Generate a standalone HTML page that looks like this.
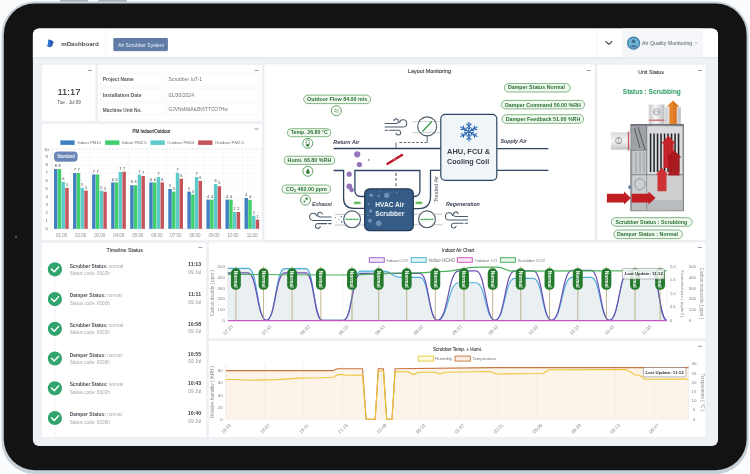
<!DOCTYPE html>
<html><head><meta charset="utf-8"><style>
html,body{margin:0;padding:0;background:#fff;}
body{width:750px;height:474px;overflow:hidden;position:relative;font-family:"Liberation Sans", sans-serif;}
svg{position:absolute;left:0;top:0;filter:blur(0.3px);}
svg text{font-family:"Liberation Sans", sans-serif;}
</style></head><body>
<svg width="750" height="474" viewBox="0 0 750 474">
<defs>
<clipPath id="scr"><rect x="32.9" y="28.4" width="685.1" height="417.6" rx="6"/></clipPath>
</defs>

<rect x="0" y="0" width="750" height="474" fill="#fbfcfd"/>
<rect x="60" y="0" width="28" height="2.2" rx="1" fill="#a9b3bc"/>
<rect x="98" y="0" width="29" height="2.2" rx="1" fill="#a9b3bc"/>
<rect x="1.6" y="1.5" width="747" height="472.5" rx="33" fill="#c6d0d8"/>
<rect x="3.8" y="3.4" width="742.8" height="466.8" rx="31" fill="#131313"/>
<circle cx="16" cy="237" r="1.3" fill="#4a4f55"/>
<g clip-path="url(#scr)">
<rect x="32" y="28" width="687" height="419" fill="#eef1f5"/>
<rect x="32" y="28" width="687" height="29" fill="#ffffff"/>
<rect x="32" y="57" width="687" height="2" fill="#e7ebf0"/>
<defs><linearGradient id="lg" x1="0" y1="0" x2="1" y2="0"><stop offset="0" stop-color="#3f86e6"/><stop offset="1" stop-color="#1f4fa8"/></linearGradient></defs>
<path d="M48.2 39.4 C50.6 39.3 52.6 40.6 53.9 42.3 L52.9 42.9 C53.1 45.4 51.4 47.3 49.2 47.3 C48.5 47.3 48 46.9 47.7 46.3 L46.1 45.8 L47.7 45 Z" fill="url(#lg)"/>
<path d="M50.5 41.5 L52.9 42.9 L51 44.5 Z" fill="#173f8f" opacity="0.6"/>
<text x="61.2" y="46" font-size="6.15" font-weight="bold" fill="#4a4e55">mDashboard</text>
<rect x="105.4" y="28" width="0.7" height="29" fill="#eef0f3"/>
<rect x="113.3" y="37.9" width="54.6" height="13" rx="1.2" fill="#5f7ba6"/>
<rect x="113.8" y="50.9" width="53.6" height="0.8" fill="#c9d0da" opacity="0.7"/>
<text x="118.1" y="46.6" font-size="5.02" fill="#eef2f8">Air Scrubber System</text>
<rect x="596.5" y="30" width="0.8" height="27" fill="#f0f2f5"/>
<path d="M605.6 41.2 L608.9 44.4 L612.2 41.2" fill="none" stroke="#4d5866" stroke-width="1.3"/>
<rect x="622" y="28" width="81" height="29" fill="#f4f6f9"/>
<circle cx="633.6" cy="43.1" r="6.6" fill="#3f7fa6"/>
<circle cx="633.6" cy="43.1" r="5.4" fill="#6fb3d2"/>
<circle cx="633.6" cy="41.3" r="1.9" fill="#3c6f93"/>
<path d="M630.2 47.2 C630.6 44.6 636.6 44.6 637 47.2 Z" fill="#3c6f93"/>
<text x="642.1" y="45.2" font-size="5.26" fill="#555b63">Air Quality Monitoring</text>
<path d="M695.2 42.6 L697 42.6 L696.1 43.8 Z" fill="#8a9099"/>
<rect x="41.8" y="64.3" width="54.10000000000001" height="57.400000000000006" fill="#ffffff" stroke="#e3e7ec" stroke-width="0.5"/>
<rect x="97.6" y="64.3" width="164.9" height="57.400000000000006" fill="#ffffff" stroke="#e3e7ec" stroke-width="0.5"/>
<rect x="264" y="64" width="330.9" height="176.5" fill="#ffffff" stroke="#e3e7ec" stroke-width="0.5"/>
<rect x="597" y="64.2" width="109" height="176.3" fill="#ffffff" stroke="#e3e7ec" stroke-width="0.5"/>
<rect x="41.7" y="123.5" width="220.8" height="117.19999999999999" fill="#ffffff" stroke="#e3e7ec" stroke-width="0.5"/>
<rect x="41.5" y="242.2" width="165.3" height="195.40000000000003" fill="#ffffff" stroke="#e3e7ec" stroke-width="0.5"/>
<rect x="208.2" y="242" width="497.8" height="96.80000000000001" fill="#ffffff" stroke="#e3e7ec" stroke-width="0.5"/>
<rect x="208.2" y="340.5" width="497.8" height="97.10000000000002" fill="#ffffff" stroke="#e3e7ec" stroke-width="0.5"/>
<rect x="88" y="69.95" width="4" height="0.7" fill="#6b7280"/>
<rect x="254.5" y="69.95" width="4" height="0.7" fill="#6b7280"/>
<rect x="586.8" y="70.05000000000001" width="4" height="0.7" fill="#6b7280"/>
<rect x="698" y="70.05000000000001" width="4" height="0.7" fill="#6b7280"/>
<rect x="254.5" y="128.65" width="4" height="0.7" fill="#6b7280"/>
<rect x="198.4" y="247.35" width="4" height="0.7" fill="#6b7280"/>
<rect x="697.7" y="247.15" width="4" height="0.7" fill="#6b7280"/>
<rect x="698" y="345.84999999999997" width="4" height="0.7" fill="#6b7280"/>
<text x="57.5" y="94.9" font-size="9.5" fill="#2b2f36" stroke="#2b2f36" stroke-width="0.12">11:17</text>
<text x="57.2" y="103.7" font-size="4.55" fill="#4a4f57">Tue , Jul 09</text>
<rect x="100.1" y="73.2" width="62.9" height="12.799999999999997" fill="#fff" stroke="#eff1f4" stroke-width="0.6"/>
<rect x="166.3" y="73.2" width="93.1" height="12.799999999999997" fill="#fff" stroke="#eff1f4" stroke-width="0.6"/>
<text x="102.8" y="81" font-size="4.83" font-weight="bold" fill="#555a62">Project Name</text>
<text x="168.5" y="81.2" font-size="5.08" fill="#6e737a">Scrubber IoT-1</text>
<rect x="100.1" y="88.1" width="62.9" height="12.900000000000006" fill="#fff" stroke="#eff1f4" stroke-width="0.6"/>
<rect x="166.3" y="88.1" width="93.1" height="12.900000000000006" fill="#fff" stroke="#eff1f4" stroke-width="0.6"/>
<text x="102.8" y="96.7" font-size="5.0" font-weight="bold" fill="#555a62">Installation Date</text>
<text x="168.5" y="96.6" font-size="5.1" fill="#6e737a">01/30/2024</text>
<rect x="100.1" y="103" width="62.9" height="11.799999999999997" fill="#fff" stroke="#eff1f4" stroke-width="0.6"/>
<rect x="166.3" y="103" width="93.1" height="11.799999999999997" fill="#fff" stroke="#eff1f4" stroke-width="0.6"/>
<text x="102.8" y="111.6" font-size="4.8" font-weight="bold" fill="#555a62">Machine Unit No.</text>
<text x="168.5" y="111.3" font-size="4.84" fill="#6e737a">GJVNsMdAkZK6TTCO7Hw</text>
<text x="408.1" y="73.3" font-size="5.4" fill="#3c4048" stroke="#3c4048" stroke-width="0.12">Layout Monitoring</text>
<rect x="303.7" y="95.1" width="67.0" height="8.5" rx="4.25" fill="#f1f9f0" stroke="#4f9a52" stroke-width="0.7"/>
<text x="307.1" y="101.3" font-size="5.34" font-weight="bold" fill="#277030">Outdoor Flow 84.00 m/s</text>
<rect x="287.3" y="128.7" width="43.599999999999966" height="8.0" rx="4.0" fill="#f1f9f0" stroke="#4f9a52" stroke-width="0.7"/>
<text x="290.7" y="134.4" font-size="5.25" font-weight="bold" fill="#277030">Temp. 26.80 °C</text>
<rect x="284.3" y="156.2" width="50.39999999999998" height="8.200000000000017" rx="4.1000000000000085" fill="#f1f9f0" stroke="#4f9a52" stroke-width="0.7"/>
<text x="287.6" y="161.9" font-size="5.35" font-weight="bold" fill="#277030">Humi. 66.80 %RH</text>
<rect x="282.1" y="185" width="48.5" height="8.199999999999989" rx="4.099999999999994" fill="#f1f9f0" stroke="#4f9a52" stroke-width="0.7"/>
<text x="286" y="190.8" font-size="5.37" font-weight="bold" fill="#277030">CO<tspan font-size="3.6" dy="0.8">2</tspan><tspan dy="-0.8"> 462.00 ppm</tspan></text>
<rect x="504.3" y="83.6" width="65.99999999999994" height="8.400000000000006" rx="4.200000000000003" fill="#f1f9f0" stroke="#4f9a52" stroke-width="0.7"/>
<text x="507.9" y="89.4" font-size="5.3" font-weight="bold" fill="#277030">Damper Status Normal</text>
<rect x="501.4" y="100.4" width="83.20000000000005" height="8.5" rx="4.25" fill="#f1f9f0" stroke="#4f9a52" stroke-width="0.7"/>
<text x="505" y="106.7" font-size="5.32" font-weight="bold" fill="#277030">Damper Command 50.00 %RH</text>
<rect x="501.9" y="114.7" width="81.80000000000007" height="8.599999999999994" rx="4.299999999999997" fill="#f1f9f0" stroke="#4f9a52" stroke-width="0.7"/>
<text x="505.7" y="121.3" font-size="5.33" font-weight="bold" fill="#277030">Damper Feedback 51.00 %RH</text>
<circle cx="336.3" cy="110.7" r="5.0" fill="#fff" stroke="#2e8a3a" stroke-width="0.8"/>
<path d="M334 109.8 q1.1 -0.9 2.3 0 t2.3 0 M334 111.8 q1.1 -0.9 2.3 0 t2.3 0" fill="none" stroke="#2e7a36" stroke-width="0.6"/>
<circle cx="307.7" cy="143.3" r="5.0" fill="#fff" stroke="#2e8a3a" stroke-width="0.8"/>
<rect x="306.2" y="139.6" width="3" height="6.6" rx="1.5" fill="none" stroke="#2e7a36" stroke-width="0.6"/><circle cx="307.7" cy="145.2" r="1.3" fill="#2e7a36"/>
<circle cx="307.9" cy="171.3" r="5.0" fill="#fff" stroke="#2e8a3a" stroke-width="0.8"/>
<path d="M307.9 168.6 C306.6 170.6 306.2 171.4 306.2 172.2 a1.7 1.7 0 0 0 3.4 0 C309.6 171.4 309.2 170.6 307.9 168.6 Z" fill="#2e7a36"/>
<circle cx="305.5" cy="200.1" r="5.0" fill="#fff" stroke="#2e8a3a" stroke-width="0.8"/>
<circle cx="306.7" cy="198.6" r="1.2" fill="#2e7a36"/><circle cx="304.4" cy="201.6" r="0.9" fill="#2e7a36"/><path d="M304.4 201.6 L306.7 198.6" stroke="#2e7a36" stroke-width="0.6"/>
<text x="333.3" y="144" font-size="5.4" font-weight="bold" font-style="italic" fill="#3a4250">Return Air</text>
<text x="500.4" y="143.3" font-size="5.3" font-weight="bold" font-style="italic" fill="#3a4250">Supply Air</text>
<text x="312" y="205.6" font-size="5.5" font-style="italic" fill="#3a4250" stroke="#3a4250" stroke-width="0.1">Exhaust</text>
<text x="446" y="205.6" font-size="5.3" font-weight="bold" font-style="italic" fill="#3a4250">Regeneration</text>
<text transform="translate(438,202.6) rotate(-90)" x="0" y="0" font-size="5.5" fill="#505761">Treated Air</text>
<path d="M333.6 148.5 H441" stroke="#2d4563" stroke-width="1.3" fill="none"/>
<path d="M497 148.6 H548.4 M497 170.4 H548.4" stroke="#2d4563" stroke-width="1.3" fill="none"/>
<path d="M333.6 170.5 H343.6 V198.3 Q343.6 208.4 353.6 208.4 H366" stroke="#2d4563" stroke-width="1.3" fill="none"/>
<path d="M366 196.5 H361 Q354.9 196.5 354.9 190.5 V170.5 H419.9 V190.5 Q419.9 196.5 413.9 196.5 H411" stroke="#2d4563" stroke-width="1.3" fill="none"/>
<path d="M441 170.3 H430.5 V196.5 Q430.5 208.6 418.5 208.6 H411" stroke="#2d4563" stroke-width="1.3" fill="none"/>
<path d="M412.5 121.7 H440 M412.5 132.6 H440" stroke="#b5bcc4" stroke-width="0.7"/>
<circle cx="427.2" cy="126.4" r="9.5" fill="none" stroke="#4c5a69" stroke-width="1.1"/>
<path d="M422.5 131.5 L431.8 121.5" stroke="#2e9a48" stroke-width="1.2"/>
<path d="M427.2 135.9 V142.5" stroke="#4c5a69" stroke-width="0.9"/>
<path d="M427.2 142.5 H397.8" stroke="#4c5a69" stroke-width="0.9" stroke-dasharray="2.6 1.6"/>
<path d="M396 142.5 V148" stroke="#4c5a69" stroke-width="0.9"/>
<g transform="translate(384.6,119.2) scale(1.0)" fill="none" stroke="#4b5a6c" stroke-width="1.05" stroke-linecap="round"><path d="M0.5 4.3 H11.6 A2.3 2.3 0 1 0 9.4 1.3"/><path d="M0.5 7.8 H18.5 A3.6 3.6 0 1 0 15 3.4"/><path d="M0.5 11 H3 M4.8 11 H13.6 A2.4 2.4 0 1 1 11.4 14"/></g>
<g transform="translate(309.2,212.6)" fill="none" stroke="#4b5a6c" stroke-width="1.05" stroke-linecap="round"><path d="M22 4.3 H10.8 A2.3 2.3 0 1 1 13 1.3"/><path d="M22 7.8 H4 A3.6 3.6 0 1 1 7.5 3.4"/><path d="M22 11 H19.5 M17.6 11 H8.8 A2.4 2.4 0 1 0 11 14"/></g>
<g transform="translate(445.1,212.2)" fill="none" stroke="#4b5a6c" stroke-width="1.05" stroke-linecap="round"><path d="M22.5 4.3 H10.8 A2.3 2.3 0 1 1 13 1.3"/><path d="M22.5 7.8 H4 A3.6 3.6 0 1 1 7.5 3.4"/><path d="M22.5 11 H20 M18 11 H8.8 A2.4 2.4 0 1 0 11 14"/></g>
<path d="M334.8 214.4 H366 M334.8 225 H366 M411 214.2 H442.6 M411 224.8 H442.6" stroke="#a9b1ba" stroke-width="0.7"/>
<circle cx="352.1" cy="219.3" r="8.4" fill="#fff" stroke="#4c5a69" stroke-width="1.1"/>
<path d="M345.6 219.3 H358.6" stroke="#3fae54" stroke-width="1.2" stroke-dasharray="3 0.6"/>
<path d="M345.6 219.3 H358.6" stroke="#2a6a3a" stroke-width="0.4" stroke-dasharray="0.6 3" stroke-dashoffset="-3"/>
<circle cx="427" cy="219.3" r="8.4" fill="#fff" stroke="#4c5a69" stroke-width="1.1"/>
<path d="M420.5 219.3 H433.5" stroke="#3fae54" stroke-width="1.2" stroke-dasharray="3 0.6"/>
<path d="M420.5 219.3 H433.5" stroke="#2a6a3a" stroke-width="0.4" stroke-dasharray="0.6 3" stroke-dashoffset="-3"/>
<circle cx="335.5" cy="217.5" r="0.6" fill="#6a7a8c"/>
<circle cx="338.5" cy="219.6" r="0.5" fill="#6a7a8c"/>
<circle cx="341.2" cy="216.8" r="0.7" fill="#4a6a90"/>
<circle cx="341.8" cy="222" r="0.8" fill="#2a4a70"/>
<circle cx="336.5" cy="222.4" r="0.4" fill="#7a8a9c"/>
<rect x="353.7" y="201.6" width="7.2" height="2.6" rx="1.3" fill="#7ccf6e"/>
<path d="M355.1 202.9 H359.5" stroke="#2f7a3a" stroke-width="0.7" stroke-dasharray="1.2 0.6"/>
<rect x="415.29999999999995" y="201.6" width="7.2" height="2.6" rx="1.3" fill="#7ccf6e"/>
<path d="M416.7 202.9 H421.09999999999997" stroke="#2f7a3a" stroke-width="0.7" stroke-dasharray="1.2 0.6"/>
<path d="M396 172.8 V186.5" stroke="#56616d" stroke-width="1.1" stroke-dasharray="3.2 1.9"/>
<circle cx="357.2" cy="154.3" r="3.1" fill="#8d68b5" opacity="0.92"/>
<circle cx="359.4" cy="164.6" r="2.7" fill="#8d68b5" opacity="0.92"/>
<circle cx="349.2" cy="174.2" r="2.6" fill="#8d68b5" opacity="0.92"/>
<circle cx="349.3" cy="186.3" r="2.9" fill="#8d68b5" opacity="0.92"/>
<circle cx="351.6" cy="189.9" r="2.3" fill="#8d68b5" opacity="0.92"/>
<circle cx="368.8" cy="160" r="0.7" fill="#444"/>
<path d="M387.6 163.8 L402 155" stroke="#c0182a" stroke-width="2.5" stroke-linecap="round"/>
<path d="M393.6 160 L396 158.6" stroke="#f2d0d0" stroke-width="0.5"/>
<rect x="440.8" y="114.3" width="56" height="66" rx="4.5" fill="#f1f6fb" stroke="#2d4563" stroke-width="1.2"/>
<g stroke="#2f6cb0" stroke-width="1.15" stroke-linecap="round" fill="none"><path d="M468.9 131.7 L468.90 122.30"/><path d="M468.90 126.10 L466.78 123.98"/><path d="M468.90 126.10 L471.02 123.98"/><path d="M468.90 128.90 L467.34 127.34"/><path d="M468.90 128.90 L470.46 127.34"/><path d="M468.9 131.7 L460.76 127.00"/><path d="M464.05 128.90 L461.15 129.68"/><path d="M464.05 128.90 L463.27 126.00"/><path d="M466.48 130.30 L464.35 130.87"/><path d="M466.48 130.30 L465.91 128.17"/><path d="M468.9 131.7 L460.76 136.40"/><path d="M464.05 134.50 L463.27 137.40"/><path d="M464.05 134.50 L461.15 133.72"/><path d="M466.48 133.10 L465.91 135.23"/><path d="M466.48 133.10 L464.35 132.53"/><path d="M468.9 131.7 L468.90 141.10"/><path d="M468.90 137.30 L471.02 139.42"/><path d="M468.90 137.30 L466.78 139.42"/><path d="M468.90 134.50 L470.46 136.06"/><path d="M468.90 134.50 L467.34 136.06"/><path d="M468.9 131.7 L477.04 136.40"/><path d="M473.75 134.50 L476.65 133.72"/><path d="M473.75 134.50 L474.53 137.40"/><path d="M471.32 133.10 L473.45 132.53"/><path d="M471.32 133.10 L471.89 135.23"/><path d="M468.9 131.7 L477.04 127.00"/><path d="M473.75 128.90 L474.53 126.00"/><path d="M473.75 128.90 L476.65 129.68"/><path d="M471.32 130.30 L471.89 128.17"/><path d="M471.32 130.30 L473.45 130.87"/></g>
<text x="447.1" y="154.4" font-size="7.45" font-weight="bold" fill="#3b4048">AHU, FCU &amp;</text>
<text x="447.1" y="164.4" font-size="7.15" font-weight="bold" fill="#3b4048">Cooling Coil</text>
<rect x="364.7" y="188.8" width="48.6" height="41.9" rx="5" fill="#355c87" stroke="#243b57" stroke-width="1.3"/>
<circle cx="371.3" cy="195.3" r="1.8" fill="#a8c6e4" opacity="0.5"/>
<circle cx="378.7" cy="196" r="1.2" fill="#a8c6e4" opacity="0.45"/>
<circle cx="386.7" cy="195.3" r="2.6" fill="#a8c6e4" opacity="0.5"/>
<circle cx="380.7" cy="191.3" r="0.5" fill="#a8c6e4" opacity="0.5"/>
<circle cx="390.7" cy="192.7" r="0.6" fill="#a8c6e4" opacity="0.5"/>
<circle cx="396.7" cy="192.7" r="0.7" fill="#a8c6e4" opacity="0.5"/>
<circle cx="368.7" cy="204" r="1" fill="#a8c6e4" opacity="0.5"/>
<circle cx="370.7" cy="211" r="1.7" fill="#a8c6e4" opacity="0.5"/>
<circle cx="368" cy="215.3" r="0.8" fill="#a8c6e4" opacity="0.5"/>
<circle cx="370" cy="220.7" r="2" fill="#a8c6e4" opacity="0.5"/>
<circle cx="378.7" cy="223.3" r="2.8" fill="#a8c6e4" opacity="0.5"/>
<text x="375.3" y="207.3" font-size="6.6" font-weight="bold" fill="#eef3f8">HVAC Air</text>
<text x="375.3" y="215.8" font-size="6.6" font-weight="bold" fill="#eef3f8">Scrubber</text>
<text x="638.2" y="73.8" font-size="5.25" fill="#3c4048" stroke="#3c4048" stroke-width="0.1">Unit Status</text>
<text x="622.8" y="93.8" font-size="6.54" font-weight="bold" fill="#2a9a60">Status : Scrubbing</text>
<defs><linearGradient id="cab" x1="0" y1="0" x2="1" y2="0"><stop offset="0" stop-color="#9c9fa3"/><stop offset="0.5" stop-color="#c9cbcd"/><stop offset="1" stop-color="#a9acaf"/></linearGradient><linearGradient id="pipe" x1="0" y1="0" x2="0" y2="1"><stop offset="0" stop-color="#d8dadc"/><stop offset="0.5" stop-color="#f4f5f6"/><stop offset="1" stop-color="#c2c5c8"/></linearGradient><linearGradient id="cyl" x1="0" y1="0" x2="1" y2="0"><stop offset="0" stop-color="#c9cbce"/><stop offset="0.45" stop-color="#f6f6f7"/><stop offset="1" stop-color="#b9bcc0"/></linearGradient></defs><rect x="648.8" y="104.5" width="15.7" height="19.7" fill="url(#cyl)"/><circle cx="656.7" cy="111.9" r="3.1" fill="none" stroke="#777" stroke-width="0.6"/><path d="M653.6 111.9 H659.8" stroke="#777" stroke-width="0.5"/><rect x="648.8" y="119.6" width="15.7" height="1.2" fill="#d06060"/><rect x="665.2" y="107.2" width="15.6" height="17" fill="url(#cyl)"/><path d="M673 100.4 L679.2 106.6 L676.6 106.6 L676.6 124.2 L669.4 124.2 L669.4 106.6 L666.8 106.6 Z" fill="#e8842c"/><path d="M673 100.4 L679.2 106.6 L676.6 106.6 L676.6 124.2 L673 124.2 Z" fill="#d4701e" opacity="0.6"/><rect x="630.8" y="124.6" width="52.6" height="86.2" fill="url(#cab)" stroke="#6f7377" stroke-width="0.8"/><rect x="632.2" y="126.2" width="14.4" height="24" fill="#9ea2a6"/><rect x="632.2" y="150.5" width="14.4" height="24" fill="#c3c5c8"/><path d="M634.5 128 L640 148 M638 127 L645 150" stroke="#55595d" stroke-width="1"/><path d="M636 152 V173 M640 152 V173 M644 152 V173" stroke="#8d9195" stroke-width="0.7"/><rect x="647.4" y="126.6" width="34.8" height="47.4" fill="#d9dbdd"/><rect x="649.8" y="133.5" width="1.5" height="38.5" fill="#202124"/><rect x="653.3" y="133.5" width="1.5" height="38.5" fill="#202124"/><rect x="656.8" y="133.5" width="1.5" height="38.5" fill="#202124"/><rect x="660.3" y="133.5" width="1.5" height="38.5" fill="#202124"/><rect x="663.8" y="133.5" width="1.5" height="38.5" fill="#202124"/><rect x="667.3" y="133.5" width="1.5" height="38.5" fill="#202124"/><rect x="670.8" y="133.5" width="1.5" height="38.5" fill="#202124"/><rect x="674.3" y="133.5" width="1.5" height="38.5" fill="#202124"/><rect x="677.8" y="133.5" width="1.5" height="38.5" fill="#202124"/><rect x="632.2" y="175.2" width="50" height="35" fill="#cdcfd1"/><rect x="632.2" y="200" width="50" height="10" fill="#b9bcbf"/><path d="M646.6 125 V210.5 M631 174.7 H683 M631 150.3 H646.6" stroke="#6d7175" stroke-width="0.6"/><path d="M635 181 q5 -5 10 1 q1 8 -7 8 q-4 -3 -3 -9 z" fill="none" stroke="#6f7377" stroke-width="0.6"/><path d="M631 125 H683.4" stroke="#55595d" stroke-width="1.1"/><rect x="610.9" y="132.3" width="19.6" height="17.4" fill="url(#pipe)"/><circle cx="618.7" cy="140.6" r="3.1" fill="none" stroke="#666" stroke-width="0.6"/><path d="M618.7 137.5 V143.7" stroke="#666" stroke-width="0.5"/><rect x="627.9" y="131.5" width="1.3" height="19" fill="#cc5555"/><path d="M668.5 135.8 L675.6 143.5 L673.5 143.5 L673.5 168 L663.5 168 L663.5 143.5 L661.4 143.5 Z" fill="#c71f25" opacity="0.95"/><path d="M674 150 L681.5 157.5 L679.5 157.5 L679.5 175.5 L668.5 175.5 L668.5 157.5 L666.5 157.5 Z" fill="#a9151b" opacity="0.95"/><path d="M662 167.5 L668 174.5 L666.5 174.5 L666.5 191.2 L657.5 191.2 L657.5 174.5 L656 174.5 Z" fill="#d02a2c" opacity="0.95"/><path d="M606.9 193.8 H624 V191.5 L631 198 L624 204.5 V202.6 H606.9 Z" fill="#bf1e23"/><path d="M631.6 193.8 H648.5 V191.5 L655.6 198 L648.5 204.5 V202.6 H631.6 Z" fill="#bf1e23"/><rect x="628.5" y="185.5" width="2" height="3.2" fill="#3a6a9a"/>
<rect x="611.3" y="217.7" width="80.80000000000007" height="8.5" rx="4.25" fill="#f1f9f0" stroke="#4f9a52" stroke-width="0.7"/>
<text x="615.4" y="223.7" font-size="5.3" font-weight="bold" fill="#277030">Scrubber Status : Scrubbing</text>
<rect x="613.9" y="230" width="68.60000000000002" height="8.599999999999994" rx="4.299999999999997" fill="#f1f9f0" stroke="#4f9a52" stroke-width="0.7"/>
<text x="617" y="236.3" font-size="5.37" font-weight="bold" fill="#277030">Damper Status : Normal</text>
<text x="132.6" y="133.1" font-size="4.45" fill="#30343a" stroke="#30343a" stroke-width="0.15">PM Indoor/Outdoor</text>
<rect x="60.3" y="140.4" width="14.3" height="4.5" fill="#3f80c0"/>
<text x="77.4" y="144.3" font-size="4.1" fill="#6b7078">Indoor PM10</text>
<rect x="105.1" y="140.4" width="14.3" height="4.5" fill="#41cf6c"/>
<text x="121.5" y="144.3" font-size="4.2" fill="#6b7078">Indoor PM2.5</text>
<rect x="150.5" y="140.4" width="14.3" height="4.5" fill="#5ccaca"/>
<text x="167.3" y="144.3" font-size="4.18" fill="#6b7078">Outdoor PM10</text>
<rect x="198.1" y="140.4" width="14.3" height="4.5" fill="#c4555a"/>
<text x="214.9" y="144.3" font-size="4.29" fill="#6b7078">Outdoor PM2.5</text>
<path d="M51.2 228.80 H262" stroke="#f0f1f3" stroke-width="0.5"/>
<path d="M51.2 220.82 H262" stroke="#f0f1f3" stroke-width="0.5"/>
<path d="M51.2 212.84 H262" stroke="#f0f1f3" stroke-width="0.5"/>
<path d="M51.2 204.86 H262" stroke="#f0f1f3" stroke-width="0.5"/>
<path d="M51.2 196.88 H262" stroke="#f0f1f3" stroke-width="0.5"/>
<path d="M51.2 188.90 H262" stroke="#f0f1f3" stroke-width="0.5"/>
<path d="M51.2 180.92 H262" stroke="#f0f1f3" stroke-width="0.5"/>
<path d="M51.2 172.94 H262" stroke="#f0f1f3" stroke-width="0.5"/>
<path d="M51.2 164.96 H262" stroke="#f0f1f3" stroke-width="0.5"/>
<path d="M51.2 156.98 H262" stroke="#f0f1f3" stroke-width="0.5"/>
<path d="M51.2 149 H262" stroke="#c9ccd1" stroke-width="0.6" stroke-dasharray="2.2 1.6"/>
<path d="M52.10 149 V229" stroke="#eef0f2" stroke-width="0.5"/>
<path d="M71.15 149 V229" stroke="#eef0f2" stroke-width="0.5"/>
<path d="M90.20 149 V229" stroke="#eef0f2" stroke-width="0.5"/>
<path d="M109.25 149 V229" stroke="#eef0f2" stroke-width="0.5"/>
<path d="M128.30 149 V229" stroke="#eef0f2" stroke-width="0.5"/>
<path d="M147.35 149 V229" stroke="#eef0f2" stroke-width="0.5"/>
<path d="M166.40 149 V229" stroke="#eef0f2" stroke-width="0.5"/>
<path d="M185.45 149 V229" stroke="#eef0f2" stroke-width="0.5"/>
<path d="M204.50 149 V229" stroke="#eef0f2" stroke-width="0.5"/>
<path d="M223.55 149 V229" stroke="#eef0f2" stroke-width="0.5"/>
<path d="M242.60 149 V229" stroke="#eef0f2" stroke-width="0.5"/>
<path d="M261.65 149 V229" stroke="#eef0f2" stroke-width="0.5"/>
<path d="M51.2 149 V229 M51.2 228.9 H262" stroke="#e4e6ea" stroke-width="0.5"/>
<text x="46.6" y="230.30" font-size="4.2" fill="#5f646b" text-anchor="middle">0</text>
<text x="46.6" y="222.32" font-size="4.2" fill="#5f646b" text-anchor="middle">1</text>
<text x="46.6" y="214.34" font-size="4.2" fill="#5f646b" text-anchor="middle">2</text>
<text x="46.6" y="206.36" font-size="4.2" fill="#5f646b" text-anchor="middle">3</text>
<text x="46.6" y="198.38" font-size="4.2" fill="#5f646b" text-anchor="middle">4</text>
<text x="46.6" y="190.40" font-size="4.2" fill="#5f646b" text-anchor="middle">5</text>
<text x="46.6" y="182.42" font-size="4.2" fill="#5f646b" text-anchor="middle">6</text>
<text x="46.6" y="174.44" font-size="4.2" fill="#5f646b" text-anchor="middle">7</text>
<text x="46.6" y="166.46" font-size="4.2" fill="#5f646b" text-anchor="middle">8</text>
<text x="46.6" y="158.48" font-size="4.2" fill="#5f646b" text-anchor="middle">9</text>
<text x="46.6" y="150.50" font-size="4.2" fill="#5f646b" text-anchor="middle">10</text>
<rect x="54.00" y="169.1" width="3.45" height="59.70" fill="#3f80c0"/>
<text x="55.72" y="167.20" font-size="3.9" fill="#3d4148" text-anchor="middle">8</text>
<rect x="57.75" y="169.1" width="3.45" height="59.70" fill="#41cf6c"/>
<text x="59.47" y="167.20" font-size="3.9" fill="#3d4148" text-anchor="middle">8</text>
<rect x="61.50" y="182" width="3.45" height="46.80" fill="#5ccaca"/>
<text x="63.22" y="180.10" font-size="3.9" fill="#3d4148" text-anchor="middle">6</text>
<rect x="65.25" y="187.8" width="3.45" height="41.00" fill="#c4555a"/>
<text x="66.97" y="185.90" font-size="3.9" fill="#3d4148" text-anchor="middle">5</text>
<text x="61.60" y="237.2" font-size="4.45" fill="#8a8f96" text-anchor="middle">01:00</text>
<rect x="73.05" y="173" width="3.45" height="55.80" fill="#3f80c0"/>
<text x="74.77" y="171.10" font-size="3.9" fill="#3d4148" text-anchor="middle">7</text>
<rect x="76.80" y="173" width="3.45" height="55.80" fill="#41cf6c"/>
<text x="78.52" y="171.10" font-size="3.9" fill="#3d4148" text-anchor="middle">7</text>
<rect x="80.55" y="187.8" width="3.45" height="41.00" fill="#5ccaca"/>
<text x="82.27" y="185.90" font-size="3.9" fill="#3d4148" text-anchor="middle">5</text>
<rect x="84.30" y="190.6" width="3.45" height="38.20" fill="#c4555a"/>
<text x="86.02" y="188.70" font-size="3.9" fill="#3d4148" text-anchor="middle">5</text>
<text x="80.65" y="237.2" font-size="4.45" fill="#8a8f96" text-anchor="middle">02:00</text>
<rect x="92.10" y="174.5" width="3.45" height="54.30" fill="#3f80c0"/>
<text x="93.82" y="172.60" font-size="3.9" fill="#3d4148" text-anchor="middle">7</text>
<rect x="95.85" y="174.5" width="3.45" height="54.30" fill="#41cf6c"/>
<text x="97.57" y="172.60" font-size="3.9" fill="#3d4148" text-anchor="middle">7</text>
<rect x="99.60" y="190.6" width="3.45" height="38.20" fill="#5ccaca"/>
<text x="101.32" y="188.70" font-size="3.9" fill="#3d4148" text-anchor="middle">5</text>
<rect x="103.35" y="191.7" width="3.45" height="37.10" fill="#c4555a"/>
<text x="105.07" y="189.80" font-size="3.9" fill="#3d4148" text-anchor="middle">5</text>
<text x="99.70" y="237.2" font-size="4.45" fill="#8a8f96" text-anchor="middle">03:00</text>
<rect x="111.15" y="182.4" width="3.45" height="46.40" fill="#3f80c0"/>
<text x="112.87" y="180.50" font-size="3.9" fill="#3d4148" text-anchor="middle">6</text>
<rect x="114.90" y="182.4" width="3.45" height="46.40" fill="#41cf6c"/>
<text x="116.62" y="180.50" font-size="3.9" fill="#3d4148" text-anchor="middle">6</text>
<rect x="118.65" y="171.9" width="3.45" height="56.90" fill="#5ccaca"/>
<text x="120.37" y="170.00" font-size="3.9" fill="#3d4148" text-anchor="middle">7</text>
<rect x="122.40" y="171.7" width="3.45" height="57.10" fill="#c4555a"/>
<text x="124.12" y="169.80" font-size="3.9" fill="#3d4148" text-anchor="middle">7</text>
<text x="118.75" y="237.2" font-size="4.45" fill="#8a8f96" text-anchor="middle">04:00</text>
<rect x="130.20" y="185.2" width="3.45" height="43.60" fill="#3f80c0"/>
<text x="131.92" y="183.30" font-size="3.9" fill="#3d4148" text-anchor="middle">6</text>
<rect x="133.95" y="185.2" width="3.45" height="43.60" fill="#41cf6c"/>
<text x="135.67" y="183.30" font-size="3.9" fill="#3d4148" text-anchor="middle">6</text>
<rect x="137.70" y="174.5" width="3.45" height="54.30" fill="#5ccaca"/>
<text x="139.42" y="172.60" font-size="3.9" fill="#3d4148" text-anchor="middle">7</text>
<rect x="141.45" y="176" width="3.45" height="52.80" fill="#c4555a"/>
<text x="143.17" y="174.10" font-size="3.9" fill="#3d4148" text-anchor="middle">7</text>
<text x="137.80" y="237.2" font-size="4.45" fill="#8a8f96" text-anchor="middle">05:00</text>
<rect x="149.25" y="182.4" width="3.45" height="46.40" fill="#3f80c0"/>
<text x="150.97" y="180.50" font-size="3.9" fill="#3d4148" text-anchor="middle">6</text>
<rect x="153.00" y="182.4" width="3.45" height="46.40" fill="#41cf6c"/>
<text x="154.72" y="180.50" font-size="3.9" fill="#3d4148" text-anchor="middle">6</text>
<rect x="156.75" y="177" width="3.45" height="51.80" fill="#5ccaca"/>
<text x="158.47" y="175.10" font-size="3.9" fill="#3d4148" text-anchor="middle">7</text>
<rect x="160.50" y="182.4" width="3.45" height="46.40" fill="#c4555a"/>
<text x="162.22" y="180.50" font-size="3.9" fill="#3d4148" text-anchor="middle">6</text>
<text x="156.85" y="237.2" font-size="4.45" fill="#8a8f96" text-anchor="middle">06:00</text>
<rect x="168.30" y="189" width="3.45" height="39.80" fill="#3f80c0"/>
<text x="170.02" y="187.10" font-size="3.9" fill="#3d4148" text-anchor="middle">5</text>
<rect x="172.05" y="191.6" width="3.45" height="37.20" fill="#41cf6c"/>
<text x="173.77" y="189.70" font-size="3.9" fill="#3d4148" text-anchor="middle">5</text>
<rect x="175.80" y="172.7" width="3.45" height="56.10" fill="#5ccaca"/>
<text x="177.52" y="170.80" font-size="3.9" fill="#3d4148" text-anchor="middle">7</text>
<rect x="179.55" y="178.7" width="3.45" height="50.10" fill="#c4555a"/>
<text x="181.27" y="176.80" font-size="3.9" fill="#3d4148" text-anchor="middle">6</text>
<text x="175.90" y="237.2" font-size="4.45" fill="#8a8f96" text-anchor="middle">07:00</text>
<rect x="187.35" y="191.6" width="3.45" height="37.20" fill="#3f80c0"/>
<text x="189.07" y="189.70" font-size="3.9" fill="#3d4148" text-anchor="middle">5</text>
<rect x="191.10" y="194.4" width="3.45" height="34.40" fill="#41cf6c"/>
<text x="192.82" y="192.50" font-size="3.9" fill="#3d4148" text-anchor="middle">4</text>
<rect x="194.85" y="177" width="3.45" height="51.80" fill="#5ccaca"/>
<text x="196.57" y="175.10" font-size="3.9" fill="#3d4148" text-anchor="middle">7</text>
<rect x="198.60" y="180.9" width="3.45" height="47.90" fill="#c4555a"/>
<text x="200.32" y="179.00" font-size="3.9" fill="#3d4148" text-anchor="middle">6</text>
<text x="194.95" y="237.2" font-size="4.45" fill="#8a8f96" text-anchor="middle">08:00</text>
<rect x="206.40" y="199.6" width="3.45" height="29.20" fill="#3f80c0"/>
<text x="208.12" y="197.70" font-size="3.9" fill="#3d4148" text-anchor="middle">4</text>
<rect x="210.15" y="199.6" width="3.45" height="29.20" fill="#41cf6c"/>
<text x="211.87" y="197.70" font-size="3.9" fill="#3d4148" text-anchor="middle">4</text>
<rect x="213.90" y="184" width="3.45" height="44.80" fill="#5ccaca"/>
<text x="215.62" y="182.10" font-size="3.9" fill="#3d4148" text-anchor="middle">6</text>
<rect x="217.65" y="186.2" width="3.45" height="42.60" fill="#c4555a"/>
<text x="219.37" y="184.30" font-size="3.9" fill="#3d4148" text-anchor="middle">5</text>
<text x="214.00" y="237.2" font-size="4.45" fill="#8a8f96" text-anchor="middle">09:00</text>
<rect x="225.45" y="199.6" width="3.45" height="29.20" fill="#3f80c0"/>
<text x="227.17" y="197.70" font-size="3.9" fill="#3d4148" text-anchor="middle">4</text>
<rect x="229.20" y="199.6" width="3.45" height="29.20" fill="#41cf6c"/>
<text x="230.92" y="197.70" font-size="3.9" fill="#3d4148" text-anchor="middle">4</text>
<rect x="232.95" y="212" width="3.45" height="16.80" fill="#5ccaca"/>
<text x="234.67" y="210.10" font-size="3.9" fill="#3d4148" text-anchor="middle">2</text>
<rect x="236.70" y="212" width="3.45" height="16.80" fill="#c4555a"/>
<text x="238.42" y="210.10" font-size="3.9" fill="#3d4148" text-anchor="middle">2</text>
<text x="233.05" y="237.2" font-size="4.45" fill="#8a8f96" text-anchor="middle">10:00</text>
<rect x="244.50" y="198" width="3.45" height="30.80" fill="#3f80c0"/>
<text x="246.22" y="196.10" font-size="3.9" fill="#3d4148" text-anchor="middle">4</text>
<rect x="248.25" y="199.8" width="3.45" height="29.00" fill="#41cf6c"/>
<text x="249.97" y="197.90" font-size="3.9" fill="#3d4148" text-anchor="middle">4</text>
<rect x="252.00" y="215.7" width="3.45" height="13.10" fill="#5ccaca"/>
<text x="253.72" y="213.80" font-size="3.9" fill="#3d4148" text-anchor="middle">2</text>
<rect x="255.75" y="219.6" width="3.45" height="9.20" fill="#c4555a"/>
<text x="257.47" y="217.70" font-size="3.9" fill="#3d4148" text-anchor="middle">1</text>
<text x="252.10" y="237.2" font-size="4.45" fill="#8a8f96" text-anchor="middle">11:00</text>
<rect x="54" y="151.4" width="23.6" height="10.4" rx="3.8" fill="#6a86b6"/>
<text x="57.2" y="157.8" font-size="4.55" font-weight="bold" fill="#f2f5fa" textLength="17.6" lengthAdjust="spacingAndGlyphs">Standard</text>
<text x="106.6" y="251.6" font-size="5.3" fill="#3c4048" stroke="#3c4048" stroke-width="0.1">Timeline Status</text>
<path d="M54.9 276 V437" stroke="#c9cdd2" stroke-width="0.5" stroke-dasharray="1.6 1.8"/>
<circle cx="54.9" cy="269.30" r="7.1" fill="#31a46e"/>
<path d="M51.5 269.10 L54.2 271.80 L58.6 267.00" fill="none" stroke="#fff" stroke-width="1.5" stroke-linecap="round" stroke-linejoin="round"/>
<text x="69.7" y="267.50" font-size="4.75" fill="#4a4f57"><tspan font-weight="bold" textLength="37.7">Scrubber Status:</tspan><tspan fill="#a3a7ad"> normal</tspan></text>
<text x="69.7" y="274.90" font-size="4.68" fill="#a3a7ad">Status code: 0002h</text>
<text x="201.2" y="266.30" font-size="5.28" font-weight="bold" fill="#3d4148" text-anchor="end">11:13</text>
<text x="201.2" y="274.00" font-size="4.83" fill="#8e9299" text-anchor="end">09 Jul</text>
<circle cx="54.9" cy="299.04" r="7.1" fill="#31a46e"/>
<path d="M51.5 298.84 L54.2 301.54 L58.6 296.74" fill="none" stroke="#fff" stroke-width="1.5" stroke-linecap="round" stroke-linejoin="round"/>
<text x="69.7" y="297.24" font-size="4.75" fill="#4a4f57"><tspan font-weight="bold" textLength="36.1">Damper Status:</tspan><tspan fill="#a3a7ad"> normal</tspan></text>
<text x="69.7" y="304.64" font-size="4.68" fill="#a3a7ad">Status code: 0000h</text>
<text x="201.2" y="296.04" font-size="5.28" font-weight="bold" fill="#3d4148" text-anchor="end">11:11</text>
<text x="201.2" y="303.74" font-size="4.83" fill="#8e9299" text-anchor="end">09 Jul</text>
<circle cx="54.9" cy="328.78" r="7.1" fill="#31a46e"/>
<path d="M51.5 328.58 L54.2 331.28 L58.6 326.48" fill="none" stroke="#fff" stroke-width="1.5" stroke-linecap="round" stroke-linejoin="round"/>
<text x="69.7" y="326.98" font-size="4.75" fill="#4a4f57"><tspan font-weight="bold" textLength="37.7">Scrubber Status:</tspan><tspan fill="#a3a7ad"> normal</tspan></text>
<text x="69.7" y="334.38" font-size="4.68" fill="#a3a7ad">Status code: 0002h</text>
<text x="201.2" y="325.78" font-size="5.28" font-weight="bold" fill="#3d4148" text-anchor="end">10:58</text>
<text x="201.2" y="333.48" font-size="4.83" fill="#8e9299" text-anchor="end">09 Jul</text>
<circle cx="54.9" cy="358.52" r="7.1" fill="#31a46e"/>
<path d="M51.5 358.32 L54.2 361.02 L58.6 356.22" fill="none" stroke="#fff" stroke-width="1.5" stroke-linecap="round" stroke-linejoin="round"/>
<text x="69.7" y="356.72" font-size="4.75" fill="#4a4f57"><tspan font-weight="bold" textLength="36.1">Damper Status:</tspan><tspan fill="#a3a7ad"> normal</tspan></text>
<text x="69.7" y="364.12" font-size="4.68" fill="#a3a7ad">Status code: 0000h</text>
<text x="201.2" y="355.52" font-size="5.28" font-weight="bold" fill="#3d4148" text-anchor="end">10:55</text>
<text x="201.2" y="363.22" font-size="4.83" fill="#8e9299" text-anchor="end">09 Jul</text>
<circle cx="54.9" cy="388.26" r="7.1" fill="#31a46e"/>
<path d="M51.5 388.06 L54.2 390.76 L58.6 385.96" fill="none" stroke="#fff" stroke-width="1.5" stroke-linecap="round" stroke-linejoin="round"/>
<text x="69.7" y="386.46" font-size="4.75" fill="#4a4f57"><tspan font-weight="bold" textLength="37.7">Scrubber Status:</tspan><tspan fill="#a3a7ad"> normal</tspan></text>
<text x="69.7" y="393.86" font-size="4.68" fill="#a3a7ad">Status code: 0002h</text>
<text x="201.2" y="385.26" font-size="5.28" font-weight="bold" fill="#3d4148" text-anchor="end">10:43</text>
<text x="201.2" y="392.96" font-size="4.83" fill="#8e9299" text-anchor="end">09 Jul</text>
<circle cx="54.9" cy="418.00" r="7.1" fill="#31a46e"/>
<path d="M51.5 417.80 L54.2 420.50 L58.6 415.70" fill="none" stroke="#fff" stroke-width="1.5" stroke-linecap="round" stroke-linejoin="round"/>
<text x="69.7" y="416.20" font-size="4.75" fill="#4a4f57"><tspan font-weight="bold" textLength="36.1">Damper Status:</tspan><tspan fill="#a3a7ad"> normal</tspan></text>
<text x="69.7" y="423.60" font-size="4.68" fill="#a3a7ad">Status code: 0000h</text>
<text x="201.2" y="415.00" font-size="5.28" font-weight="bold" fill="#3d4148" text-anchor="end">10:40</text>
<text x="201.2" y="422.70" font-size="4.83" fill="#8e9299" text-anchor="end">09 Jul</text>
<text x="441.9" y="251.7" font-size="4.64" fill="#3c4048" stroke="#3c4048" stroke-width="0.1">Indoor Air Chart</text>
<rect x="369.3" y="257.7" width="15" height="4.6" fill="#efe4f7" stroke="#9b5fc4" stroke-width="0.9"/>
<text x="386.4" y="261.6" font-size="4.18" fill="#6b7078">Indoor CO2</text>
<rect x="411.2" y="257.7" width="15" height="4.6" fill="#e2f5f9" stroke="#3fa9c6" stroke-width="0.9"/>
<text x="428.5" y="261.6" font-size="4.41" fill="#6b7078">Indoor HCHO</text>
<rect x="457.3" y="257.7" width="15" height="4.6" fill="#f8e4f5" stroke="#c455b8" stroke-width="0.9"/>
<text x="474.5" y="261.6" font-size="4.21" fill="#6b7078">Outdoor CO</text>
<rect x="500.4" y="257.7" width="15" height="4.6" fill="#e5f5e7" stroke="#41a652" stroke-width="0.9"/>
<text x="517.7" y="261.6" font-size="4.26" fill="#6b7078">Scrubber CO2</text>
<text x="224.9" y="267.90" font-size="4.4" fill="#7b8087" text-anchor="end">500</text>
<text x="224.9" y="278.70" font-size="4.4" fill="#7b8087" text-anchor="end">400</text>
<text x="224.9" y="289.50" font-size="4.4" fill="#7b8087" text-anchor="end">300</text>
<text x="224.9" y="300.30" font-size="4.4" fill="#7b8087" text-anchor="end">200</text>
<text x="224.9" y="311.10" font-size="4.4" fill="#7b8087" text-anchor="end">100</text>
<text x="224.9" y="321.90" font-size="4.4" fill="#7b8087" text-anchor="end">0</text>
<text x="669.7" y="267.90" font-size="4.4" fill="#7b8087">2.0</text>
<text x="669.7" y="281.40" font-size="4.4" fill="#7b8087">1.5</text>
<text x="669.7" y="294.90" font-size="4.4" fill="#7b8087">1.0</text>
<text x="669.7" y="308.40" font-size="4.4" fill="#7b8087">0.5</text>
<text x="669.7" y="321.90" font-size="4.4" fill="#7b8087">0</text>
<text x="688.7" y="267.90" font-size="4.4" fill="#7b8087">500</text>
<text x="688.7" y="278.70" font-size="4.4" fill="#7b8087">400</text>
<text x="688.7" y="289.50" font-size="4.4" fill="#7b8087">300</text>
<text x="688.7" y="300.30" font-size="4.4" fill="#7b8087">200</text>
<text x="688.7" y="311.10" font-size="4.4" fill="#7b8087">100</text>
<text x="688.7" y="321.90" font-size="4.4" fill="#7b8087">0</text>
<text transform="translate(214.3,293.2) rotate(-90)" font-size="4.55" fill="#868b92" text-anchor="middle">Carbon dioxide ( ppm )</text>
<text transform="translate(681.2,293.9) rotate(90)" font-size="4.3" fill="#868b92" text-anchor="middle">Formaldehyde ( mg/m3 )</text>
<text transform="translate(700.2,293.4) rotate(90)" font-size="4.55" fill="#868b92" text-anchor="middle">Carbon monoxide ( ppm )</text>
<path d="M227.8 266 V320.5" stroke="#eef0f2" stroke-width="0.5"/>
<path d="M266.2 266 V320.5" stroke="#eef0f2" stroke-width="0.5"/>
<path d="M304.6 266 V320.5" stroke="#eef0f2" stroke-width="0.5"/>
<path d="M343 266 V320.5" stroke="#eef0f2" stroke-width="0.5"/>
<path d="M379.6 266 V320.5" stroke="#eef0f2" stroke-width="0.5"/>
<path d="M418 266 V320.5" stroke="#eef0f2" stroke-width="0.5"/>
<path d="M456.6 266 V320.5" stroke="#eef0f2" stroke-width="0.5"/>
<path d="M492.7 266 V320.5" stroke="#eef0f2" stroke-width="0.5"/>
<path d="M532.8 266 V320.5" stroke="#eef0f2" stroke-width="0.5"/>
<path d="M574 266 V320.5" stroke="#eef0f2" stroke-width="0.5"/>
<path d="M609 266 V320.5" stroke="#eef0f2" stroke-width="0.5"/>
<path d="M646 266 V320.5" stroke="#eef0f2" stroke-width="0.5"/>
<path d="M227.9 266.4 V320.5 M666.8 266.4 V320.5" stroke="#e6e8eb" stroke-width="0.5"/>
<path d="M227.9 268.4 L248.5 268.4 C257.45 268.4 257.45 320.3 266.4 320.3 C275.55 320.3 275.55 268.6 284.7 268.6 L306 268.6 C314.05 268.6 314.05 320.3 322.1 320.3 L343.4 320.3 C352.05 320.3 352.05 271.1 360.7 271.1 L384 271.1 C392.00 271.1 392.00 277.3 400 277.3 L420 277.3 C428.75 277.3 428.75 320.3 437.5 320.3 C448.10 320.3 448.10 282.7 458.7 282.7 L476 282.7 C485.50 282.7 485.50 320.3 495 320.3 C504.85 320.3 504.85 278.3 514.7 278.3 L533.3 278.3 C542.50 278.3 542.50 320.3 551.7 320.3 C561.85 320.3 561.85 277.3 572 277.3 L591.1 277.3 C600.25 277.3 600.25 320.3 609.4 320.3 C619.20 320.3 619.20 270.8 629 270.8 L651.2 270.8 C659.00 270.8 659.00 320.3 666.8 320.3 L666.8 320.5 L227.9 320.5 Z" fill="#e3e9ee" opacity="0.75"/>
<path d="M227.9 268.4 L248.5 268.4 C257.45 268.4 257.45 320.3 266.4 320.3 C275.55 320.3 275.55 268.6 284.7 268.6 L306 268.6 C314.05 268.6 314.05 320.3 322.1 320.3 L343.4 320.3 C352.05 320.3 352.05 271.1 360.7 271.1 L384 271.1 C392.00 271.1 392.00 277.3 400 277.3 L420 277.3 C428.75 277.3 428.75 320.3 437.5 320.3 C448.10 320.3 448.10 282.7 458.7 282.7 L476 282.7 C485.50 282.7 485.50 320.3 495 320.3 C504.85 320.3 504.85 278.3 514.7 278.3 L533.3 278.3 C542.50 278.3 542.50 320.3 551.7 320.3 C561.85 320.3 561.85 277.3 572 277.3 L591.1 277.3 C600.25 277.3 600.25 320.3 609.4 320.3 C619.20 320.3 619.20 270.8 629 270.8 L651.2 270.8 C659.00 270.8 659.00 320.3 666.8 320.3" fill="none" stroke="#4eaedb" stroke-width="1.15"/>
<path d="M227.9 272.8 L248 272.8 C257.20 272.8 257.20 320.3 266.4 320.3 C275.55 320.3 275.55 272.8 284.7 272.8 L306 272.8 C314.05 272.8 314.05 320.3 322.1 320.3 L343.4 320.3 C352.20 320.3 352.20 273.3 361 273.3 L420 273.3 C428.75 273.3 428.75 320.3 437.5 320.3 C448.10 320.3 448.10 270.8 458.7 270.8 L476 270.8 C485.50 270.8 485.50 320.3 495 320.3 C504.85 320.3 504.85 270.8 514.7 270.8 L533.3 270.8 C542.50 270.8 542.50 320.3 551.7 320.3 C561.85 320.3 561.85 270.4 572 270.4 L591.1 270.4 C600.25 270.4 600.25 320.3 609.4 320.3 C619.20 320.3 619.20 270.6 629 270.6 L651.2 270.6 C659.00 270.6 659.00 320.3 666.8 320.3" fill="none" stroke="#6c4fb2" stroke-width="1.2"/>
<path d="M227.9 273.2 H241" stroke="#8f8a9c" stroke-width="1.6" opacity="0.8"/>
<path d="M227.9 274.4 C283.95 274.4 283.95 275 340 275 C380.00 275 380.00 272.7 420 272.7 C430.00 272.7 430.00 271.6 440 271.6 C460.00 271.6 460.00 267.1 480 267.1 L497.3 267.1 C504.65 267.1 504.65 271.1 512 271.1 C589.40 271.1 589.40 270.7 666.8 270.7" fill="none" stroke="#4ab05a" stroke-width="1.1"/>
<path d="M227.9 320.6 H666.8" stroke="#c455c0" stroke-width="1.1"/>
<path d="M235.9 266.4 V320.5" stroke="#a99b5e" stroke-width="0.7"/>
<path d="M263.5 266.4 V320.5" stroke="#a99b5e" stroke-width="0.7"/>
<path d="M292.1 266.4 V320.5" stroke="#a99b5e" stroke-width="0.7"/>
<path d="M320.9 266.4 V320.5" stroke="#a99b5e" stroke-width="0.7"/>
<path d="M352 266.4 V320.5" stroke="#a99b5e" stroke-width="0.7"/>
<path d="M378.7 266.4 V320.5" stroke="#a99b5e" stroke-width="0.7"/>
<path d="M406.7 266.4 V320.5" stroke="#a99b5e" stroke-width="0.7"/>
<path d="M435.3 266.4 V320.5" stroke="#a99b5e" stroke-width="0.7"/>
<path d="M464 266.4 V320.5" stroke="#a99b5e" stroke-width="0.7"/>
<path d="M492.7 266.4 V320.5" stroke="#a99b5e" stroke-width="0.7"/>
<path d="M520.7 266.4 V320.5" stroke="#a99b5e" stroke-width="0.7"/>
<path d="M549.5 266.4 V320.5" stroke="#a99b5e" stroke-width="0.7"/>
<path d="M577.8 266.4 V320.5" stroke="#a99b5e" stroke-width="0.7"/>
<path d="M606.4 266.4 V320.5" stroke="#a99b5e" stroke-width="0.7"/>
<path d="M635 266.4 V320.5" stroke="#a99b5e" stroke-width="0.7"/>
<path d="M660.1 266.4 V320.5" stroke="#a99b5e" stroke-width="0.7"/>
<rect x="230.95000000000002" y="268.3" width="9.9" height="21.5" rx="4.6" fill="#247b2d"/>
<text transform="translate(234.20000000000002,270.8) rotate(90)" font-size="4.6" font-weight="bold" fill="#f4f8f4" textLength="16.8" lengthAdjust="spacingAndGlyphs">Normal</text>
<rect x="258.55" y="268.3" width="9.9" height="21.5" rx="4.6" fill="#247b2d"/>
<text transform="translate(261.8,270.8) rotate(90)" font-size="4.6" font-weight="bold" fill="#f4f8f4" textLength="16.8" lengthAdjust="spacingAndGlyphs">Normal</text>
<rect x="287.15000000000003" y="268.3" width="9.9" height="21.5" rx="4.6" fill="#247b2d"/>
<text transform="translate(290.40000000000003,270.8) rotate(90)" font-size="4.6" font-weight="bold" fill="#f4f8f4" textLength="16.8" lengthAdjust="spacingAndGlyphs">Normal</text>
<rect x="315.95" y="268.3" width="9.9" height="21.5" rx="4.6" fill="#247b2d"/>
<text transform="translate(319.2,270.8) rotate(90)" font-size="4.6" font-weight="bold" fill="#f4f8f4" textLength="16.8" lengthAdjust="spacingAndGlyphs">Normal</text>
<rect x="347.05" y="268.3" width="9.9" height="21.5" rx="4.6" fill="#247b2d"/>
<text transform="translate(350.3,270.8) rotate(90)" font-size="4.6" font-weight="bold" fill="#f4f8f4" textLength="16.8" lengthAdjust="spacingAndGlyphs">Normal</text>
<rect x="373.75" y="268.3" width="9.9" height="21.5" rx="4.6" fill="#247b2d"/>
<text transform="translate(377.0,270.8) rotate(90)" font-size="4.6" font-weight="bold" fill="#f4f8f4" textLength="16.8" lengthAdjust="spacingAndGlyphs">Normal</text>
<rect x="401.75" y="268.3" width="9.9" height="21.5" rx="4.6" fill="#247b2d"/>
<text transform="translate(405.0,270.8) rotate(90)" font-size="4.6" font-weight="bold" fill="#f4f8f4" textLength="16.8" lengthAdjust="spacingAndGlyphs">Normal</text>
<rect x="430.35" y="268.3" width="9.9" height="21.5" rx="4.6" fill="#247b2d"/>
<text transform="translate(433.6,270.8) rotate(90)" font-size="4.6" font-weight="bold" fill="#f4f8f4" textLength="16.8" lengthAdjust="spacingAndGlyphs">Normal</text>
<rect x="459.05" y="268.3" width="9.9" height="21.5" rx="4.6" fill="#247b2d"/>
<text transform="translate(462.3,270.8) rotate(90)" font-size="4.6" font-weight="bold" fill="#f4f8f4" textLength="16.8" lengthAdjust="spacingAndGlyphs">Normal</text>
<rect x="487.75" y="268.3" width="9.9" height="21.5" rx="4.6" fill="#247b2d"/>
<text transform="translate(491.0,270.8) rotate(90)" font-size="4.6" font-weight="bold" fill="#f4f8f4" textLength="16.8" lengthAdjust="spacingAndGlyphs">Normal</text>
<rect x="515.75" y="268.3" width="9.9" height="21.5" rx="4.6" fill="#247b2d"/>
<text transform="translate(519.0,270.8) rotate(90)" font-size="4.6" font-weight="bold" fill="#f4f8f4" textLength="16.8" lengthAdjust="spacingAndGlyphs">Normal</text>
<rect x="544.55" y="268.3" width="9.9" height="21.5" rx="4.6" fill="#247b2d"/>
<text transform="translate(547.8,270.8) rotate(90)" font-size="4.6" font-weight="bold" fill="#f4f8f4" textLength="16.8" lengthAdjust="spacingAndGlyphs">Normal</text>
<rect x="572.8499999999999" y="268.3" width="9.9" height="21.5" rx="4.6" fill="#247b2d"/>
<text transform="translate(576.0999999999999,270.8) rotate(90)" font-size="4.6" font-weight="bold" fill="#f4f8f4" textLength="16.8" lengthAdjust="spacingAndGlyphs">Normal</text>
<rect x="601.4499999999999" y="268.3" width="9.9" height="21.5" rx="4.6" fill="#247b2d"/>
<text transform="translate(604.6999999999999,270.8) rotate(90)" font-size="4.6" font-weight="bold" fill="#f4f8f4" textLength="16.8" lengthAdjust="spacingAndGlyphs">Normal</text>
<rect x="630.05" y="268.3" width="9.9" height="21.5" rx="4.6" fill="#247b2d"/>
<text transform="translate(633.3,270.8) rotate(90)" font-size="4.6" font-weight="bold" fill="#f4f8f4" textLength="16.8" lengthAdjust="spacingAndGlyphs">Normal</text>
<rect x="655.15" y="268.3" width="9.9" height="21.5" rx="4.6" fill="#247b2d"/>
<text transform="translate(658.4,270.8) rotate(90)" font-size="4.6" font-weight="bold" fill="#f4f8f4" textLength="16.8" lengthAdjust="spacingAndGlyphs">Normal</text>
<rect x="622.3" y="268.6" width="42.1" height="10.4" rx="1.2" fill="#ffffff" fill-opacity="0.82" stroke="#6d7177" stroke-width="0.5"/>
<text x="624.9" y="275.2" font-size="4.3" font-weight="bold" fill="#30343a">Last Update: 11:12</text>
<text transform="translate(233.4,327.2) rotate(-45)" font-size="4.6" fill="#7f848b" text-anchor="end">07:23</text>
<text transform="translate(271.8,327.2) rotate(-45)" font-size="4.6" fill="#7f848b" text-anchor="end">07:43</text>
<text transform="translate(310.20000000000005,327.2) rotate(-45)" font-size="4.6" fill="#7f848b" text-anchor="end">08:03</text>
<text transform="translate(348.6,327.2) rotate(-45)" font-size="4.6" fill="#7f848b" text-anchor="end">08:23</text>
<text transform="translate(385.20000000000005,327.2) rotate(-45)" font-size="4.6" fill="#7f848b" text-anchor="end">08:43</text>
<text transform="translate(423.6,327.2) rotate(-45)" font-size="4.6" fill="#7f848b" text-anchor="end">09:03</text>
<text transform="translate(462.20000000000005,327.2) rotate(-45)" font-size="4.6" fill="#7f848b" text-anchor="end">09:23</text>
<text transform="translate(498.3,327.2) rotate(-45)" font-size="4.6" fill="#7f848b" text-anchor="end">09:43</text>
<text transform="translate(538.4,327.2) rotate(-45)" font-size="4.6" fill="#7f848b" text-anchor="end">10:03</text>
<text transform="translate(579.6,327.2) rotate(-45)" font-size="4.6" fill="#7f848b" text-anchor="end">10:23</text>
<text transform="translate(614.6,327.2) rotate(-45)" font-size="4.6" fill="#7f848b" text-anchor="end">10:43</text>
<text transform="translate(651.6,327.2) rotate(-45)" font-size="4.6" fill="#7f848b" text-anchor="end">11:03</text>
<text x="433" y="350.7" font-size="4.55" fill="#3c4048" stroke="#3c4048" stroke-width="0.1">Scrubber Temp. + Humi.</text>
<rect x="418.3" y="356.1" width="15.3" height="5" fill="#fff9dc" stroke="#e9c93c" stroke-width="0.9"/>
<text x="435" y="359.8" font-size="4.37" fill="#6d727b">Humidity</text>
<rect x="455" y="356.1" width="15.3" height="5" fill="#fbeee4" stroke="#c3733d" stroke-width="0.9"/>
<text x="472.3" y="359.8" font-size="4.28" fill="#6d727b">Temperature</text>
<text x="222.6" y="372.30" font-size="4.4" fill="#7b8087" text-anchor="end">80</text>
<text x="222.6" y="384.40" font-size="4.4" fill="#7b8087" text-anchor="end">60</text>
<text x="222.6" y="396.50" font-size="4.4" fill="#7b8087" text-anchor="end">40</text>
<text x="222.6" y="408.60" font-size="4.4" fill="#7b8087" text-anchor="end">20</text>
<text x="222.6" y="420.70" font-size="4.4" fill="#7b8087" text-anchor="end">0</text>
<text x="693.9" y="365.30" font-size="4.4" fill="#7b8087" text-anchor="middle">30</text>
<text x="693.9" y="374.50" font-size="4.4" fill="#7b8087" text-anchor="middle">25</text>
<text x="693.9" y="383.70" font-size="4.4" fill="#7b8087" text-anchor="middle">20</text>
<text x="693.9" y="392.90" font-size="4.4" fill="#7b8087" text-anchor="middle">15</text>
<text x="693.9" y="402.10" font-size="4.4" fill="#7b8087" text-anchor="middle">10</text>
<text x="693.9" y="411.30" font-size="4.4" fill="#7b8087" text-anchor="middle">5</text>
<text x="693.9" y="420.50" font-size="4.4" fill="#7b8087" text-anchor="middle">0</text>
<text transform="translate(214.4,391.8) rotate(-90)" font-size="4.54" fill="#868b92" text-anchor="middle">Relative humidity ( %RH )</text>
<text transform="translate(700.7,392.2) rotate(90)" font-size="4.6" fill="#868b92" text-anchor="middle">Temperature ( °C )</text>
<path d="M225.9 370.6 L333.3 370.6 L337 368.8 L362.5 368.8 L366.2 419.2 L375.2 419.2 L378.3 368.8 L383.4 368.8 L386.7 419.2 L392 419.2 L395.1 368.8 L495 367.6 L688.5 367.6 L688.5 419.2 L225.9 419.2 Z" fill="#fdf4e9"/>
<path d="M264.80 364 V419.2" stroke="#ebe4dc" stroke-width="0.5"/>
<path d="M303.70 364 V419.2" stroke="#ebe4dc" stroke-width="0.5"/>
<path d="M342.60 364 V419.2" stroke="#ebe4dc" stroke-width="0.5"/>
<path d="M381.50 364 V419.2" stroke="#ebe4dc" stroke-width="0.5"/>
<path d="M420.40 364 V419.2" stroke="#ebe4dc" stroke-width="0.5"/>
<path d="M459.30 364 V419.2" stroke="#ebe4dc" stroke-width="0.5"/>
<path d="M498.20 364 V419.2" stroke="#ebe4dc" stroke-width="0.5"/>
<path d="M537.10 364 V419.2" stroke="#ebe4dc" stroke-width="0.5"/>
<path d="M576.00 364 V419.2" stroke="#ebe4dc" stroke-width="0.5"/>
<path d="M614.90 364 V419.2" stroke="#ebe4dc" stroke-width="0.5"/>
<path d="M653.80 364 V419.2" stroke="#ebe4dc" stroke-width="0.5"/>
<path d="M225.9 364 V419.2 M688.5 364 V419.2 M225.9 419.2 H688.5" stroke="#e8e2da" stroke-width="0.5"/>
<path d="M225.9 370.6 L333.3 370.6 L337 368.8 L362.5 368.8 L366.2 419.2 L375.2 419.2 L378.3 368.8 L383.4 368.8 L386.7 419.2 L392 419.2 L395.1 368.8 L495 367.6 L688.5 367.6" fill="none" stroke="#c9743e" stroke-width="1.1" stroke-linejoin="round"/>
<path d="M225.9 379.2 L253 380.2 L277.3 379.6 L299.7 378.1 L322 377.7 L333.3 377.2 L338 374.4 L348.2 375.3 L362.5 375 L366.2 419.2 L375.2 419.2 L378.3 371 L383.4 371 L386.7 419.2 L392 419.2 L395.1 371.6 L408 371.8 L412.9 374.6 L419.4 372.2 L435 372.2 L440 374 L444.6 372.2 L490 371.5 L496.7 374 L543.3 373.5 L548.7 369.7 L626 369.6 L635.3 375 L639.3 375 L644.7 379.3 L688.5 379.1" fill="none" stroke="#ecc53c" stroke-width="1.15" stroke-linejoin="round"/>
<rect x="643.3" y="367.5" width="42.7" height="9.4" rx="1.2" fill="#ffffff" fill-opacity="0.88" stroke="#6d7177" stroke-width="0.5"/>
<text x="645.6" y="373.6" font-size="4.3" font-weight="bold" fill="#30343a">Last Update: 11:12</text>
<text transform="translate(231.3,425.6) rotate(-45)" font-size="4.6" fill="#7f848b" text-anchor="end">16:33</text>
<text transform="translate(270.2,425.6) rotate(-45)" font-size="4.6" fill="#7f848b" text-anchor="end">18:07</text>
<text transform="translate(309.09999999999997,425.6) rotate(-45)" font-size="4.6" fill="#7f848b" text-anchor="end">19:41</text>
<text transform="translate(348.0,425.6) rotate(-45)" font-size="4.6" fill="#7f848b" text-anchor="end">21:15</text>
<text transform="translate(386.9,425.6) rotate(-45)" font-size="4.6" fill="#7f848b" text-anchor="end">22:49</text>
<text transform="translate(425.79999999999995,425.6) rotate(-45)" font-size="4.6" fill="#7f848b" text-anchor="end">00:23</text>
<text transform="translate(464.69999999999993,425.6) rotate(-45)" font-size="4.6" fill="#7f848b" text-anchor="end">01:57</text>
<text transform="translate(503.6,425.6) rotate(-45)" font-size="4.6" fill="#7f848b" text-anchor="end">03:31</text>
<text transform="translate(542.5,425.6) rotate(-45)" font-size="4.6" fill="#7f848b" text-anchor="end">05:05</text>
<text transform="translate(581.4,425.6) rotate(-45)" font-size="4.6" fill="#7f848b" text-anchor="end">06:39</text>
<text transform="translate(620.3,425.6) rotate(-45)" font-size="4.6" fill="#7f848b" text-anchor="end">08:13</text>
<text transform="translate(659.1999999999999,425.6) rotate(-45)" font-size="4.6" fill="#7f848b" text-anchor="end">09:47</text>
</g>
</svg></body></html>
